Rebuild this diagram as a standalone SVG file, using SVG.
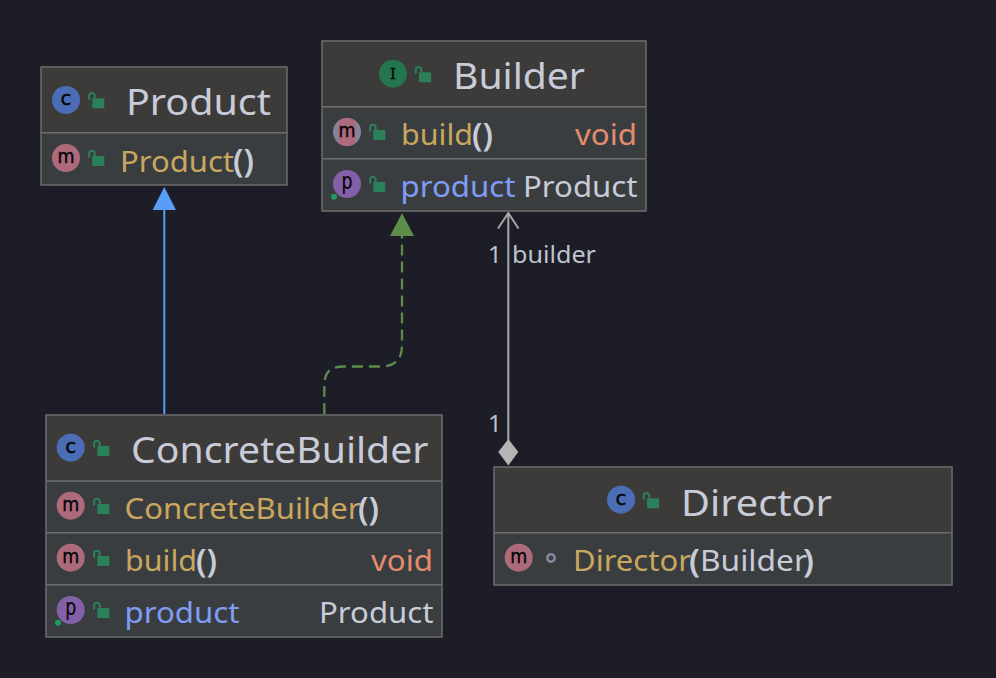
<svg xmlns="http://www.w3.org/2000/svg" width="996" height="678" viewBox="0 0 996 678">
<style>
text{font-family:"Noto Sans","Open Sans","DejaVu Sans",sans-serif}
.head{fill:#3c3b3a}.body{fill:#3a3d40}
.frame{fill:none;stroke:#6e6e6e;stroke-width:1.5}
.div{stroke:#6e6e6e;stroke-width:1.5}
.title{font-size:37px;fill:#c8ccd8}
.mem{font-size:29px}
.y{fill:#c9a75e}.w{fill:#c8ccd8;font-weight:600;font-size:33px}.t{fill:#c8ccd8}.v{fill:#e38c6e}.f{fill:#7f9df6}
.lbl{font-size:24px;fill:#bfc3cf}
.ic{font-size:19px;fill:#050507;stroke:#050507;stroke-width:.4;text-anchor:middle;font-family:"DejaVu Sans",sans-serif}
.icp{font-size:23px;stroke-width:.2}
.cc{fill:#4a6db5}.cm{fill:#ad6a7b}.cp{fill:#8360a8}.ci{fill:#24764e}
</style>
<defs>
<g id="lock"><rect x="0" y="0" width="12" height="10" fill="#2a8058"/><path d="M-3.200 1.500V-2.500A2.800 2.800 0 0 1 2.400 -2.500V0" fill="none" stroke="#2a8058" stroke-width="2"/></g>
<clipPath id="mclip"><circle cx="347" cy="132" r="14"/></clipPath>
</defs>
<rect width="996" height="678" fill="#1c1d26"/>
<g id="connectors" fill="none">
<g id="product-inherit"><line x1="164.300" y1="208" x2="164.300" y2="414" stroke="#589df6" stroke-width="2"/><polygon points="164.300,187 176,210 152.600,210" fill="#589df6"/></g>
<g id="builder-implement"><path d="M324.300 414V386C324.300 372 330 366.500 344 366.500H380C395 366.500 402 360 402 345V236" stroke="#5d8c4b" stroke-width="2.300" stroke-dasharray="11 6"/><polygon points="402,213 414,236 390,236" fill="#5d8c4b"/></g>
<g id="director-builder"><line x1="508.300" y1="213" x2="508.300" y2="440" stroke="#a9a9a9" stroke-width="2"/><path d="M498 228.500L508.300 213L518.500 228.500" stroke="#a9a9a9" stroke-width="2"/><polygon points="508.300,439 518.300,452 508.300,465.500 498.300,452" fill="#b5b5b5"/></g>
</g>
<text class="lbl" x="488" y="263">1</text>
<text class="lbl" x="512" y="263" textLength="84" lengthAdjust="spacingAndGlyphs">builder</text>
<text class="lbl" x="488" y="432">1</text>
<g id="Product">
<rect class="head" x="41" y="67" width="246" height="66"/><rect class="body" x="41" y="133" width="246" height="52"/>
<rect class="frame" x="41" y="67" width="246" height="118"/><line class="div" x1="41" y1="132.700" x2="287" y2="132.700"/>
<circle class="cc" cx="66" cy="100" r="14"/><text class="ic" x="66" y="105" textLength="11" lengthAdjust="spacingAndGlyphs">c</text><use href="#lock" x="92.300" y="98.300"/>
<text class="title" x="126" y="115" textLength="145" lengthAdjust="spacingAndGlyphs">Product</text>
<circle class="cm" cx="66" cy="158" r="14"/><text class="ic" x="66" y="163" textLength="17" lengthAdjust="spacingAndGlyphs">m</text><use href="#lock" x="92.300" y="156"/>
<text class="mem y" x="120" y="171.500" textLength="114" lengthAdjust="spacingAndGlyphs">Product</text><text class="mem w" x="233" y="172" textLength="21" lengthAdjust="spacingAndGlyphs">()</text>
</g>
<g id="Builder">
<rect class="head" x="322" y="41" width="324" height="66"/><rect class="body" x="322" y="107" width="324" height="104"/>
<rect class="frame" x="322" y="41" width="324" height="170"/><line class="div" x1="322" y1="106.700" x2="646" y2="106.700"/><line class="div" x1="322" y1="158.700" x2="646" y2="158.700"/>
<circle class="ci" cx="393" cy="73.700" r="14"/><text class="ic" x="393" y="79.200" style="font-size:15px;font-family:'DejaVu Serif',serif">I</text><use href="#lock" x="419" y="72.300"/>
<text class="title" x="453" y="89.300" textLength="132" lengthAdjust="spacingAndGlyphs">Builder</text>
<circle cx="347" cy="132" r="14" fill="#85829a"/><rect x="338.500" y="118" width="17" height="28" class="cm" clip-path="url(#mclip)"/><text class="ic" x="347" y="137" textLength="17" lengthAdjust="spacingAndGlyphs">m</text><use href="#lock" x="373.300" y="130"/>
<text class="mem y" x="401" y="145" textLength="72" lengthAdjust="spacingAndGlyphs">build</text><text class="mem w" x="472" y="145.500" textLength="21" lengthAdjust="spacingAndGlyphs">()</text>
<text class="mem v" x="575" y="145" textLength="62" lengthAdjust="spacingAndGlyphs">void</text>
<circle class="cp" cx="347" cy="184" r="14"/><text class="ic icp" x="347" y="189" textLength="11" lengthAdjust="spacingAndGlyphs">p</text><circle cx="334" cy="196.700" r="3" fill="#1f9c5e"/><use href="#lock" x="373.300" y="182"/>
<text class="mem f" x="400.500" y="197" textLength="115" lengthAdjust="spacingAndGlyphs">product</text>
<text class="mem t" x="523" y="197" textLength="114.500" lengthAdjust="spacingAndGlyphs">Product</text>
</g>
<g id="ConcreteBuilder">
<rect class="head" x="46" y="415" width="396" height="66"/><rect class="body" x="46" y="481" width="396" height="156"/>
<rect class="frame" x="46" y="415" width="396" height="222"/><line class="div" x1="46" y1="481" x2="442" y2="481"/><line class="div" x1="46" y1="532.700" x2="442" y2="532.700"/><line class="div" x1="46" y1="584.700" x2="442" y2="584.700"/>
<circle class="cc" cx="70.700" cy="447.700" r="14"/><text class="ic" x="70.700" y="452.700" textLength="11" lengthAdjust="spacingAndGlyphs">c</text><use href="#lock" x="97.300" y="446"/>
<text class="title" x="131" y="463.300" textLength="297.500" lengthAdjust="spacingAndGlyphs">ConcreteBuilder</text>
<circle class="cm" cx="70.700" cy="505.700" r="14"/><text class="ic" x="70.700" y="510.700" textLength="17" lengthAdjust="spacingAndGlyphs">m</text><use href="#lock" x="97.300" y="504"/>
<text class="mem y" x="124.500" y="519" textLength="236" lengthAdjust="spacingAndGlyphs">ConcreteBuilder</text><text class="mem w" x="358" y="519.500" textLength="21" lengthAdjust="spacingAndGlyphs">()</text>
<circle class="cm" cx="70.700" cy="557.700" r="14"/><text class="ic" x="70.700" y="562.700" textLength="17" lengthAdjust="spacingAndGlyphs">m</text><use href="#lock" x="97.300" y="556"/>
<text class="mem y" x="125" y="571" textLength="72" lengthAdjust="spacingAndGlyphs">build</text><text class="mem w" x="196" y="571.500" textLength="21" lengthAdjust="spacingAndGlyphs">()</text>
<text class="mem v" x="371" y="571" textLength="62" lengthAdjust="spacingAndGlyphs">void</text>
<circle class="cp" cx="70.700" cy="610" r="14"/><text class="ic icp" x="70.700" y="615" textLength="11" lengthAdjust="spacingAndGlyphs">p</text><circle cx="58" cy="622.700" r="3" fill="#1f9c5e"/><use href="#lock" x="97.300" y="608"/>
<text class="mem f" x="124.500" y="623" textLength="115" lengthAdjust="spacingAndGlyphs">product</text>
<text class="mem t" x="319" y="623" textLength="114.500" lengthAdjust="spacingAndGlyphs">Product</text>
</g>
<g id="Director">
<rect class="head" x="494" y="467" width="458" height="66"/><rect class="body" x="494" y="533" width="458" height="52"/>
<rect class="frame" x="494" y="467" width="458" height="118"/><line class="div" x1="494" y1="532.700" x2="952" y2="532.700"/>
<circle class="cc" cx="621" cy="499.700" r="14"/><text class="ic" x="621" y="504.700" textLength="11" lengthAdjust="spacingAndGlyphs">c</text><use href="#lock" x="647" y="498.300"/>
<text class="title" x="681" y="515.700" textLength="151" lengthAdjust="spacingAndGlyphs">Director</text>
<circle class="cm" cx="518.700" cy="557.700" r="14"/><text class="ic" x="518.700" y="562.700" textLength="17" lengthAdjust="spacingAndGlyphs">m</text><circle cx="551" cy="558" r="3.700" fill="none" stroke="#8a87a0" stroke-width="2.500"/>
<text class="mem y" x="573" y="571" textLength="118" lengthAdjust="spacingAndGlyphs">Director</text><text class="mem w" x="689" y="571.500" textLength="11" lengthAdjust="spacingAndGlyphs">(</text><text class="mem t" x="700" y="571" textLength="107" lengthAdjust="spacingAndGlyphs">Builder</text><text class="mem w" x="803" y="571.500" textLength="11" lengthAdjust="spacingAndGlyphs">)</text>
</g>
</svg>
